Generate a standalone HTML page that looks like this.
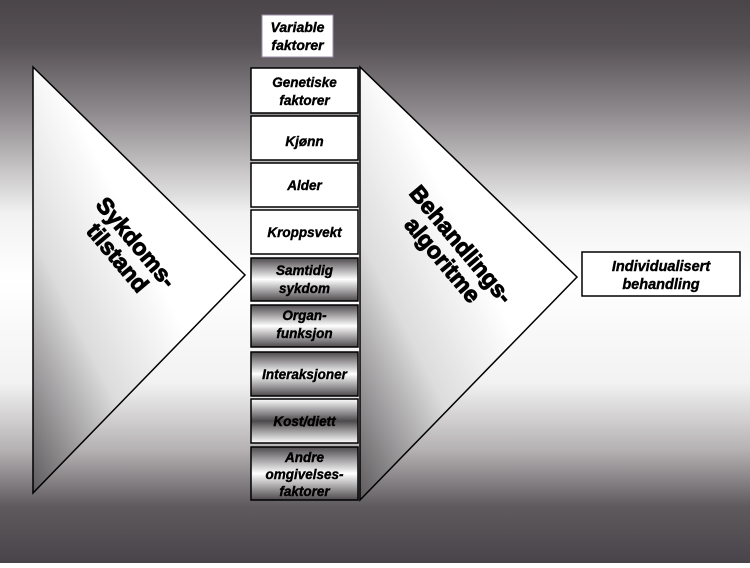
<!DOCTYPE html>
<html><head><meta charset="utf-8"><style>
body{margin:0;width:750px;height:563px;overflow:hidden;}
</style></head><body>
<svg width="750" height="563" xmlns="http://www.w3.org/2000/svg" font-family="Liberation Sans, sans-serif">
<defs>
<linearGradient id="bg" x1="0" y1="0" x2="0" y2="1">
<stop offset="0" stop-color="#4a4548"/>
<stop offset="0.08" stop-color="#575255"/>
<stop offset="0.2" stop-color="#8f8a8d"/>
<stop offset="0.38" stop-color="#f2f2f2"/>
<stop offset="0.5" stop-color="#ffffff"/>
<stop offset="0.68" stop-color="#f2f2f2"/>
<stop offset="0.8" stop-color="#b5b1b3"/>
<stop offset="0.9" stop-color="#5f5a5d"/>
<stop offset="1" stop-color="#48444a"/>
</linearGradient>
<linearGradient id="tri" x1="0" y1="1" x2="0.55" y2="0.45">
<stop offset="0" stop-color="#5e5a5d"/>
<stop offset="0.55" stop-color="#dcdcdc"/>
<stop offset="1" stop-color="#ffffff"/>
</linearGradient>
<linearGradient id="bx" x1="0" y1="0" x2="0" y2="1">
<stop offset="0" stop-color="#4d494c"/>
<stop offset="0.5" stop-color="#ffffff"/>
<stop offset="1" stop-color="#4d494c"/>
</linearGradient>
<linearGradient id="bx2" x1="0" y1="0" x2="0" y2="1">
<stop offset="0" stop-color="#ffffff"/>
<stop offset="0.5" stop-color="#4d494c"/>
<stop offset="1" stop-color="#ffffff"/>
</linearGradient>
</defs>
<rect width="750" height="563" fill="url(#bg)"/>
<polygon points="33,67 245,275 33,493" fill="url(#tri)" stroke="#000" stroke-width="1.5"/>
<polygon points="360,67 577,277 360,500" fill="url(#tri)" stroke="#000" stroke-width="1.5"/>
<g font-weight="bold" font-size="23" text-anchor="middle" stroke="#000" stroke-width="1">
<text transform="translate(127,250) rotate(50)"><tspan x="0" y="-4">Sykdoms-</tspan><tspan x="0" y="20">tilstand</tspan></text>
<text transform="translate(452,252) rotate(50)"><tspan x="0" y="-4">Behandlings-</tspan><tspan x="0" y="20">algoritme</tspan></text>
</g>
<rect x="262" y="15" width="71" height="42" fill="#fff" stroke="#9a90a8" stroke-width="1"/>
<g font-weight="bold" font-style="italic" font-size="14" text-anchor="middle" stroke="#000" stroke-width="0.4">
<text x="297.5" y="32">Variable</text><text x="297.5" y="50">faktorer</text>
</g>
<g stroke="#000" stroke-width="1.5">
<rect x="251" y="68" width="107" height="45" fill="#fff"/>
<rect x="251" y="116" width="107" height="44" fill="#fff"/>
<rect x="251" y="163" width="107" height="44" fill="#fff"/>
<rect x="251" y="210" width="107" height="44" fill="#fff"/>
<rect x="251" y="258" width="107" height="43" fill="url(#bx)"/>
<rect x="251" y="305" width="107" height="42" fill="url(#bx)"/>
<rect x="251" y="352" width="107" height="44" fill="url(#bx)"/>
<rect x="251" y="399" width="107" height="44" fill="url(#bx2)"/>
<rect x="251" y="447" width="107" height="53" fill="url(#bx)"/>
</g>
<g font-weight="bold" font-style="italic" font-size="13.5" text-anchor="middle" stroke="#000" stroke-width="0.4">
<text x="304.5" y="87">Genetiske</text><text x="304.5" y="105">faktorer</text>
<text x="304.5" y="146">Kjønn</text>
<text x="304.5" y="190">Alder</text>
<text x="304.5" y="237">Kroppsvekt</text>
<text x="304.5" y="275">Samtidig</text><text x="304.5" y="293">sykdom</text>
<text x="304.5" y="320">Organ-</text><text x="304.5" y="338">funksjon</text>
<text x="304.5" y="379">Interaksjoner</text>
<text x="304.5" y="426">Kost/diett</text>
<text x="304.5" y="462">Andre</text><text x="304.5" y="479">omgivelses-</text><text x="304.5" y="496">faktorer</text>
</g>
<rect x="582" y="252" width="158" height="44" fill="#fff" stroke="#000" stroke-width="1.5"/>
<g font-weight="bold" font-style="italic" font-size="14.5" text-anchor="middle" stroke="#000" stroke-width="0.4">
<text x="661" y="271">Individualisert</text><text x="661" y="289">behandling</text>
</g>
</svg>
</body></html>
